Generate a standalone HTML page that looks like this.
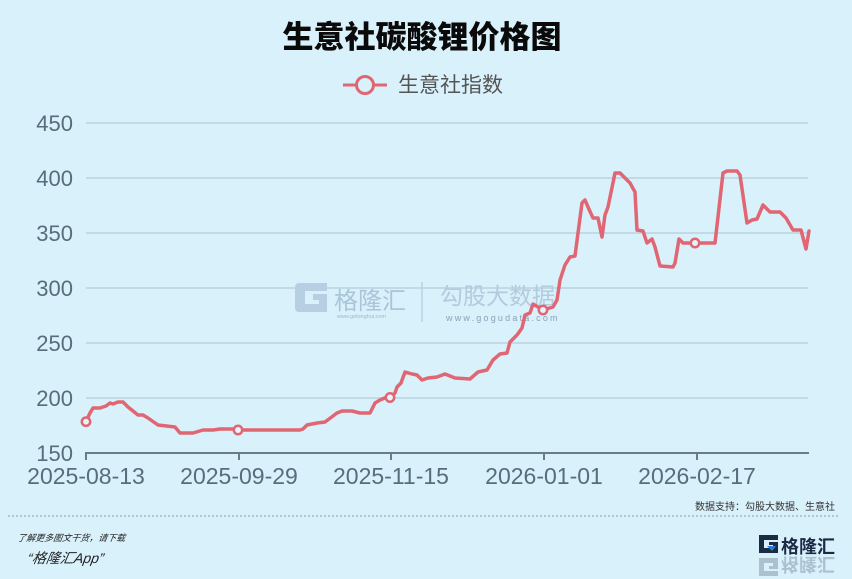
<!DOCTYPE html>
<html>
<head>
<meta charset="utf-8">
<style>
html,body{margin:0;padding:0;background:#d9f1fb;}
svg{display:block;}
text{font-family:"Liberation Sans","Noto Sans CJK SC",sans-serif;}
</style>
</head>
<body>
<svg width="852" height="579" viewBox="0 0 852 579" xmlns="http://www.w3.org/2000/svg">
<rect width="852" height="579" fill="#d9f1fb"/>

<!-- Title -->
<text x="422" y="48" text-anchor="middle" font-size="31" font-weight="900" fill="#0a0a0a" style="font-family:'Noto Sans CJK SC','WenQuanYi Zen Hei',sans-serif">生意社碳酸锂价格图</text>

<!-- Legend -->
<line x1="343" y1="85" x2="387" y2="85" stroke="#e06673" stroke-width="3"/>
<circle cx="365" cy="85" r="8.5" fill="#d9f1fb" stroke="#e06673" stroke-width="3"/>
<text x="398" y="92" font-size="21" fill="#555" style="font-family:'Noto Sans CJK SC',sans-serif">生意社指数</text>

<!-- Grid lines -->
<g stroke="#c3d9e5" stroke-width="2">
<line x1="86" y1="123" x2="808" y2="123"/>
<line x1="86" y1="178" x2="808" y2="178"/>
<line x1="86" y1="233" x2="808" y2="233"/>
<line x1="86" y1="288" x2="808" y2="288"/>
<line x1="86" y1="343" x2="808" y2="343"/>
<line x1="86" y1="398" x2="808" y2="398"/>
</g>

<!-- Y labels -->
<g font-size="22" fill="#586c7a" text-anchor="end">
<text x="73" y="131">450</text>
<text x="73" y="186">400</text>
<text x="73" y="241">350</text>
<text x="73" y="296">300</text>
<text x="73" y="351">250</text>
<text x="73" y="406">200</text>
<text x="73" y="461">150</text>
</g>

<!-- Watermark -->
<g>
<path d="M299,283 h28 v8 h-22 v13 h14 v-4 h-6 v-6 h14 v18 h-28 a4,4 0 0 1 -4,-4 v-21 a4,4 0 0 1 4,-4 z" fill="#b7cfe2"/>
<text x="334" y="309" font-size="24" fill="#aac4d9" style="font-family:'Noto Sans CJK SC',sans-serif">格隆汇</text>
<text x="337" y="318" font-size="5.5" fill="#9fb6c8">www.gelonghui.com</text>
<line x1="422" y1="282" x2="422" y2="322" stroke="#bcd1e0" stroke-width="1.5"/>
<text x="440" y="304" font-size="23" fill="#b3cbde" style="font-family:'Noto Sans CJK SC',sans-serif">勾股大数据</text>
<text x="446" y="321" font-size="9" fill="#8aa3b7" letter-spacing="2.2">www.gogudata.com</text>
</g>

<!-- Axis -->
<g stroke="#687c89" stroke-width="2">
<line x1="85" y1="453" x2="809" y2="453"/>
<line x1="86" y1="453" x2="86" y2="460"/>
<line x1="239" y1="453" x2="239" y2="460"/>
<line x1="391" y1="453" x2="391" y2="460"/>
<line x1="544" y1="453" x2="544" y2="460"/>
<line x1="697" y1="453" x2="697" y2="460"/>
</g>

<!-- X labels -->
<g font-size="23" fill="#586c7a" text-anchor="middle">
<text x="86" y="484">2025-08-13</text>
<text x="239" y="484">2025-09-29</text>
<text x="391" y="484">2025-11-15</text>
<text x="544" y="484">2026-01-01</text>
<text x="697" y="484">2026-02-17</text>
</g>

<!-- Series -->
<polyline fill="none" stroke="#e06673" stroke-width="3.5" stroke-linejoin="round" stroke-linecap="round" points="
86,421.7 90,413 93,408 100,408 106,406 110,403 113,404 118,402 123,402 128,407 138,415 143,415 148,418 158,425 175,427 180,433 193,433 203,430 213,430 220,429 233,429 238,430
300,430 303,429 307,425 317,423 325,422 337,413 342,411 352,411 360,413 370,413 375,403 380,400 387,397 390,398 395,393 397,387 401,383 405,372 412,374 417,375 422,380 428,378 437,377 445,374 455,378 470,379 478,372 487,370 493,360 500,354 507,353 510,342 517,335 522,328 525,315 530,313 533,304 538,307 543,310
553,307 557,300 560,280 565,265 570,257 575,256 578,233 582,203 585,200 588,207 593,218 598,218 602,237 605,215 608,207 615,173 620,173 625,178 630,183 635,192 637,230 643,231 647,243 652,239 655,247 660,266 673,267 675,263 679,239 683,243 695,243
715,243 723,173 727,171 737,171 740,175 747,223 752,220 757,219 763,205 770,212 780,212 786,218 793,230 801,230 806,249 809,231"/>
<g fill="#e4f4fb" stroke="#e06673" stroke-width="2.5">
<circle cx="86" cy="421.7" r="4.2"/>
<circle cx="238" cy="430" r="4.2"/>
<circle cx="390" cy="397.5" r="4.2"/>
<circle cx="543" cy="310" r="4.2"/>
<circle cx="695" cy="243" r="4.2"/>
</g>

<!-- Footer -->
<text x="835" y="510" text-anchor="end" font-size="10" fill="#333" style="font-family:'Noto Sans CJK SC',sans-serif">数据支持：勾股大数据、生意社</text>
<line x1="8" y1="516" x2="840" y2="516" stroke="#8a9aa5" stroke-width="1" stroke-dasharray="2,2"/>
<text x="17" y="541" font-size="9" fill="#222" font-style="italic" style="font-family:'Noto Sans CJK SC',sans-serif" transform="skewX(-8) translate(76,0)">了解更多图文干货，请下载</text>
<text x="27" y="563" font-size="14" fill="#222" font-style="italic" transform="skewX(-10) translate(99,0)">“格隆汇App”</text>

<!-- Logo -->
<g>
<path d="M759,535 h19 v5 h-14 v8 h9 v-3 h-4 v-3 h9 v11 h-19 z" fill="#1c2b45"/>
<path d="M767,546 l9,0 l-4,5 z" fill="#2a7fd0"/>
<text x="781" y="553" font-size="18" font-weight="700" fill="#1c2b45" style="font-family:'Noto Sans CJK SC',sans-serif">格隆汇</text>
<g opacity="0.35" transform="translate(0,1111) scale(1,-1)">
<path d="M759,535 h19 v5 h-14 v8 h9 v-3 h-4 v-3 h9 v11 h-19 z" fill="#5a6a80"/>
<text x="781" y="553" font-size="18" font-weight="700" fill="#5a6a80" style="font-family:'Noto Sans CJK SC',sans-serif">格隆汇</text>
</g>
</g>
</svg>
</body>
</html>
